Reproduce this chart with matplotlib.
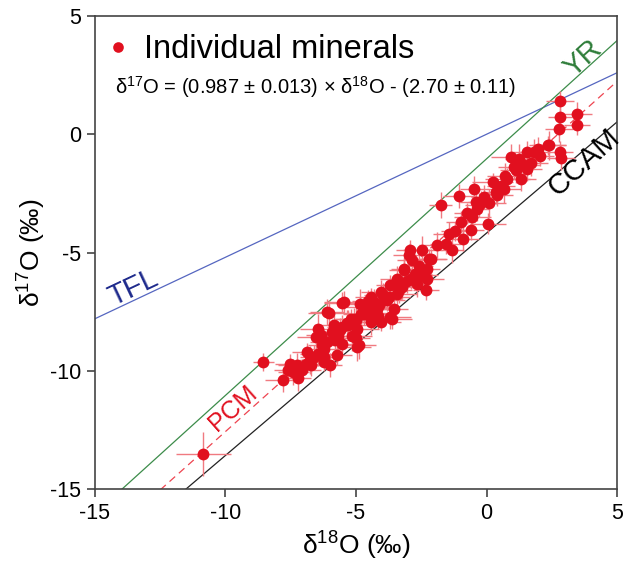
import matplotlib
matplotlib.use("Agg")
import matplotlib.pyplot as plt
import numpy as np

plt.rcParams['font.family'] = ['Liberation Sans', 'DejaVu Sans']
plt.rcParams['mathtext.fontset'] = 'custom'
plt.rcParams['mathtext.rm'] = 'Liberation Sans'
plt.rcParams['mathtext.default'] = 'rm'
plt.rcParams['axes.unicode_minus'] = False

# individual mineral data (per mil)
d18O = [-10.85, -8.55, -7.51, -7.60, -7.80, -7.23, -6.90, -6.72, -6.87, -6.52,
        -6.30, -6.11, -6.24, -6.44, -6.24, -5.98, -5.72, -6.04, -5.53, -4.83,
        -4.44, -4.06, -3.68, -3.42, -3.17, -2.97, -4.57, -4.19, -3.68, -5.21,
        -5.85, -6.36, -5.60, -4.95, -4.44, -3.81, -3.55, -4.89, -3.61, -2.33,
        -1.76, -1.05, -0.99, -0.54, -0.60, -0.92, -1.56, -1.31, -2.46, -2.93,
        -2.84, -2.21, -3.17, -2.27, -2.27, -0.41, -0.35, -0.48, 0.23, -0.09,
        0.42, 0.93, 1.25, 1.57, 1.96, 2.34, 1.12, 0.80, 1.57, 0.68,
        -0.22, 1.31, 2.82, 2.82, 3.46, 3.46, 2.78, 2.40, 2.82, 2.85,
        1.83, 0.06, -0.29, -6.24, -5.92, -5.47, -5.53, -4.96, -5.09, -4.32,
        -4.06, -3.42, -2.91, -2.65, -2.14, -3.42, -4.70, -5.30, -4.10, -3.90,
        -5.00, -4.60, -3.25, -2.60, -1.90, -1.45, -0.75, 0.10, 0.55, 1.05,
        -7.05, -7.40, -6.60, -5.80, -5.15, -4.35, -3.05, 2.05, 1.70, 0.35,
        -6.10, -5.70, -5.35, -4.80, -4.25, -3.95, -3.35, -2.75, -6.45, -5.00,
        -4.55, -3.75, -2.50, -1.20, 0.70, 1.45, -7.25, -6.75, -5.55, -4.15]
d17O = [-13.52, -9.63, -9.70, -9.98, -10.40, -10.31, -9.70, -9.77, -9.21, -8.57,
        -8.92, -7.52, -9.63, -8.22, -9.07, -9.77, -9.35, -7.56, -7.12, -7.16,
        -6.88, -6.67, -6.39, -6.11, -5.68, -5.12, -7.59, -7.38, -7.73, -7.80,
        -8.08, -8.50, -8.29, -8.22, -7.94, -7.02, -7.38, -8.92, -7.80, -6.60,
        -2.98, -2.61, -3.71, -3.50, -4.06, -4.42, -4.63, -4.91, -4.91, -4.91,
        -5.33, -5.26, -5.75, -5.71, -6.11, -2.86, -3.15, -2.30, -2.02, -2.65,
        -2.58, -0.96, -1.03, -0.75, -0.61, -0.47, -1.52, -1.88, -1.46, -2.30,
        -2.86, -1.88, 1.39, 0.73, 0.87, 0.40, 0.23, -0.47, -0.75, -1.00,
        -0.75, -3.78, -3.00, -9.42, -8.36, -7.09, -8.15, -8.99, -7.80, -7.09,
        -7.94, -6.39, -6.11, -6.32, -5.26, -6.74, -7.60, -8.05, -7.20, -6.95,
        -7.85, -7.30, -6.45, -5.55, -4.70, -4.20, -3.35, -2.90, -2.20, -1.40,
        -9.95, -10.05, -9.40, -8.70, -8.55, -7.55, -6.20, -0.90, -1.20, -2.45,
        -8.80, -8.55, -8.00, -7.60, -7.35, -6.80, -6.60, -5.90, -9.30, -8.60,
        -7.05, -6.90, -5.95, -4.10, -1.75, -1.30, -9.75, -9.55, -8.85, -7.70]
err18 = [1.05, 0.40, 0.60, 0.55, 0.70, 0.50, 0.80, 0.45, 0.60, 0.75,
         0.55, 0.65, 0.50, 0.70, 0.60, 0.45, 0.55, 0.80, 0.70, 0.90,
         0.60, 0.75, 0.55, 0.65, 0.50, 0.60, 0.70, 0.45, 0.80, 0.60,
         0.75, 0.55, 0.50, 0.85, 0.60, 0.70, 0.55, 0.65, 0.75, 0.50,
         0.45, 0.60, 0.55, 0.70, 0.50, 0.65, 0.60, 0.45, 0.75, 0.55,
         0.60, 0.70, 0.55, 0.50, 0.65, 0.60, 0.45, 0.55, 0.80, 0.50,
         0.60, 0.75, 0.55, 0.65, 0.50, 0.70, 0.60, 0.85, 0.55, 0.65,
         0.50, 0.60, 0.55, 0.45, 0.60, 0.50, 0.55, 0.65, 0.50, 0.55,
         0.60, 0.70, 0.55, 0.65, 0.50, 0.75, 0.60, 0.55, 0.70, 0.60,
         0.80, 0.55, 0.65, 0.50, 0.60, 0.75, 0.55, 0.70, 0.60, 0.65,
         0.50, 0.85, 0.60, 0.55, 0.70, 0.60, 0.50, 0.65, 0.55, 0.60,
         0.70, 0.60, 0.55, 0.65, 0.75, 0.50, 0.60, 0.55, 0.65, 0.50,
         0.65, 0.80, 0.55, 0.70, 0.60, 0.75, 0.50, 0.65, 0.70, 0.55,
         0.60, 0.80, 0.65, 0.55, 0.70, 0.60, 0.75, 0.55, 0.65, 0.70]
err17 = [0.95, 0.40, 0.40, 0.45, 0.50, 0.55, 0.35, 0.45, 0.40, 0.50,
         0.45, 0.55, 0.40, 0.60, 0.45, 0.50, 0.40, 0.55, 0.45, 0.60,
         0.40, 0.50, 0.45, 0.55, 0.40, 0.50, 0.45, 0.60, 0.50, 0.40,
         0.55, 0.45, 0.50, 0.40, 0.55, 0.45, 0.50, 0.60, 0.45, 0.40,
         0.55, 0.50, 0.45, 0.60, 0.40, 0.50, 0.45, 0.55, 0.60, 0.45,
         0.50, 0.40, 0.55, 0.45, 0.60, 0.45, 0.50, 0.55, 0.40, 0.50,
         0.45, 0.55, 0.60, 0.45, 0.50, 0.40, 0.55, 0.45, 0.50, 0.60,
         0.45, 0.50, 0.45, 0.40, 0.50, 0.45, 0.55, 0.60, 0.45, 0.50,
         0.55, 0.45, 0.50, 0.40, 0.55, 0.45, 0.50, 0.60, 0.45, 0.55,
         0.40, 0.50, 0.45, 0.55, 0.40, 0.50, 0.45, 0.60, 0.50, 0.45,
         0.55, 0.40, 0.50, 0.45, 0.55, 0.50, 0.45, 0.60, 0.40, 0.50,
         0.45, 0.55, 0.50, 0.45, 0.60, 0.40, 0.50, 0.45, 0.55, 0.50,
         0.50, 0.45, 0.55, 0.60, 0.40, 0.50, 0.55, 0.45, 0.50, 0.60,
         0.45, 0.55, 0.50, 0.40, 0.55, 0.45, 0.50, 0.60, 0.45, 0.55]

# reference lines: (slope, intercept)
tfl = (0.52, 0.0)
yr = (1.00, -1.04)
ccam = (0.94, -4.18)
pcm = (0.987, -2.70)

red = '#e1101f'

fig = plt.figure(figsize=(6.32, 5.62), dpi=100)
ax = fig.add_axes([0.1503, 0.1299, 0.8260, 0.8416])

xx = np.array([-15, 5])
ax.plot(xx, tfl[0] * xx + tfl[1], color='#5566c0', lw=0.9, zorder=1)
ax.plot(xx, yr[0] * xx + yr[1], color='#3c8c4a', lw=0.9, zorder=1)
ax.plot(xx, ccam[0] * xx + ccam[1], color='#222222', lw=0.9, zorder=1)
ax.plot(xx, pcm[0] * xx + pcm[1], color='#ee4450', lw=0.9,
        dashes=(6, 4), zorder=1)

ax.errorbar(d18O, d17O, xerr=err18, yerr=err17, fmt='none',
            ecolor='#f07a80', elinewidth=1.0, capsize=0, zorder=2)
ax.plot(d18O, d17O, 'o', color=red, ms=8.5, mew=0, zorder=3,
        label='Individual minerals')

ax.text(-13.55, -6.50, 'TFL', color='#1e2a8c', fontsize=21,
        rotation=25.2, ha='center', va='center')
ax.text(3.70, 3.20, 'YR', color='#2f7d3a', fontsize=21,
        rotation=42.2, ha='center', va='center')
ax.text(3.75, -1.20, 'CCAM', color='black', fontsize=21,
        rotation=42.0, ha='center', va='center')
ax.text(-9.71, -11.58, 'PCM', color=red, fontsize=18,
        rotation=41.8, ha='center', va='center')

leg = ax.legend(loc='upper left', bbox_to_anchor=(0.026, 0.962), frameon=False,
                fontsize=23.5, handlelength=0.6, handletextpad=0.5,
                borderpad=0, borderaxespad=0, markerscale=0.9)
ax.text(0.038, 0.836,
        r'δ$^{17}$O = (0.987 ± 0.013) × δ$^{18}$O - (2.70 ± 0.11)',
        transform=ax.transAxes, fontsize=14.5, va='baseline')

ax.set_xlim(-15, 5)
ax.set_ylim(-15, 5)
ax.set_xticks([-15, -10, -5, 0, 5])
ax.set_yticks([-15, -10, -5, 0, 5])
ax.tick_params(direction='out', length=6, width=1.2, color='#444444',
               labelsize=15.5, pad=4)
for s in ax.spines.values():
    s.set_color('#444444')
    s.set_linewidth(1.2)

ax.set_xlabel(r'δ$^{18}$O (‰)', fontsize=19, labelpad=4)
ax.set_ylabel(r'δ$^{17}$O (‰)', fontsize=19, labelpad=1)

fig.savefig('out.png', dpi=100)
